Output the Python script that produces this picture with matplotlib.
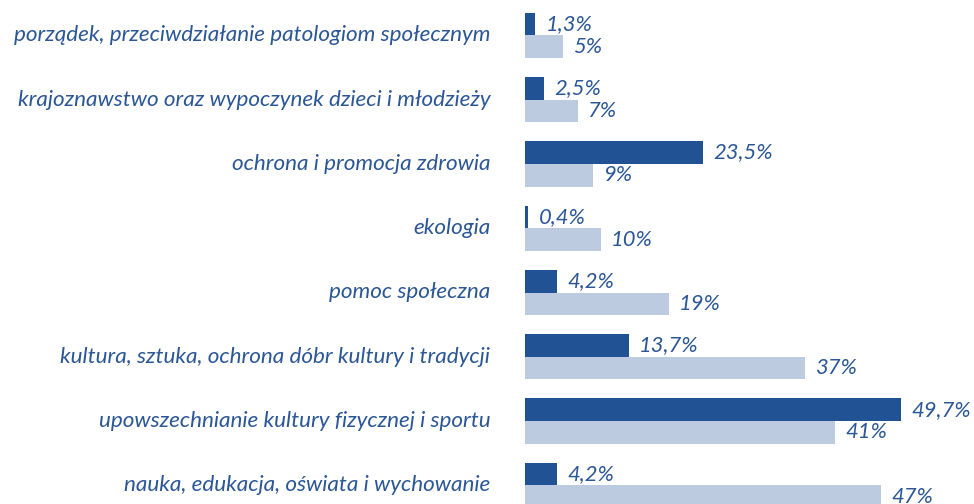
import matplotlib
matplotlib.use("Agg")
import matplotlib.pyplot as plt
import numpy as np

categories = [
    "porządek, przeciwdziałanie patologiom społecznym",
    "krajoznawstwo oraz wypoczynek dzieci i młodzieży",
    "ochrona i promocja zdrowia",
    "ekologia",
    "pomoc społeczna",
    "kultura, sztuka, ochrona dóbr kultury i tradycji",
    "upowszechnianie kultury fizycznej i sportu",
    "nauka, edukacja, oświata i wychowanie",
]
dark_vals = [1.3, 2.5, 23.5, 0.4, 4.2, 13.7, 49.7, 4.2]
light_vals = [5, 7, 9, 10, 19, 37, 41, 47]

DARK, LIGHT, TEXT = "#215394", "#bccbe0", "#2b5796"

plt.rcParams["font.family"] = ["Lato", "DejaVu Sans"]

fig = plt.figure(figsize=(9.74, 5.04), dpi=100)
# axes start where bars begin (x=525px) and run to the right edge
ax = fig.add_axes([525 / 974, 0, 1 - 525 / 974, 1])
ax.set_xlim(0, (974 - 525) / 7.57)
ax.set_ylim(7.29, -0.55)
ax.axis("off")

y = np.arange(len(categories))
h = 0.353
ax.barh(y - h / 2, dark_vals, height=h, color=DARK)
ax.barh(y + h / 2, light_vals, height=h, color=LIGHT)

fs_cat, fs_val = 16.2, 15.8
for i, (d, l) in enumerate(zip(dark_vals, light_vals)):
    ax.annotate(f"{d:.1f}%".replace(".", ","), (d, i - h / 2), xytext=(7.5, 0),
                textcoords="offset points", va="center", ha="left",
                color=TEXT, fontsize=fs_val, style="italic", annotation_clip=False)
    ax.annotate(f"{l}%", (l, i + h / 2), xytext=(7.5, 0),
                textcoords="offset points", va="center", ha="left",
                color=TEXT, fontsize=fs_val, style="italic", annotation_clip=False)
    ax.annotate(categories[i], (0, i), xytext=(-25, 0),
                textcoords="offset points", va="center", ha="right",
                color=TEXT, fontsize=fs_cat, style="italic", annotation_clip=False)

fig.savefig("out.png", dpi=100, facecolor="white")
